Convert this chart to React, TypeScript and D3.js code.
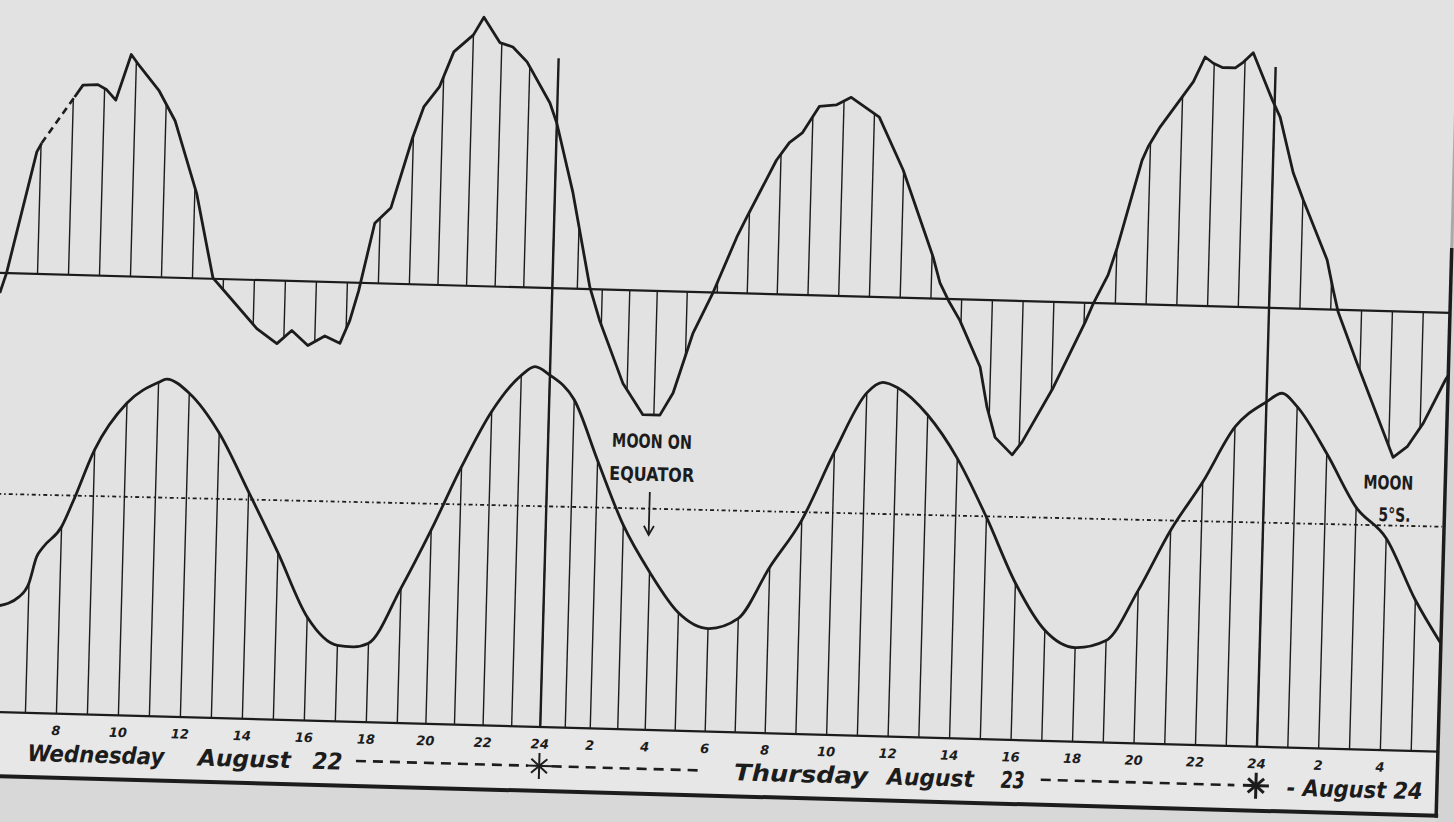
import React, { useEffect, useRef } from "react";
import * as d3 from "d3";

const W = 1454;
const H = 822;

// hours counted from 00h Wednesday August 22
const upperHours = [
  5.8, 6.0, 6.87, 7.02, 8.04, 8.3, 8.78, 9.07, 9.37, 9.83, 10.1, 10.75, 11.3, 12.06, 12.66, 13.22,
  14.12, 14.78, 15.25, 15.78, 16.32, 16.81, 17.11, 17.37, 17.83, 18.34, 18.98, 19.34, 19.86, 20.33,
  21.0, 21.35, 21.93, 22.39, 22.9, 23.74, 24.0, 24.72, 25.5, 25.92, 26.84, 27.6, 28.2, 28.62, 29.23,
  29.86, 30.6, 30.92, 31.85, 32.26, 32.67, 33.2, 33.75, 34.23, 35.16, 35.98, 37.03, 37.28, 37.6,
  37.96, 38.66, 38.92, 39.21, 39.78, 40.09, 41.05, 42.04, 42.29, 42.74, 43.01, 43.74, 43.93, 44.3,
  44.99, 45.34, 45.7, 45.97, 46.27, 46.69, 46.95, 47.26, 47.92, 48.19, 48.66, 49.01, 49.84, 50.06,
  50.24, 50.9, 52.15, 52.6, 53.1, 53.78, 53.88,
];
const upperValues = [
  -2.0, 0, 12.2, 13.1, 17.8, 19.0, 19.1, 18.6, 17.6, 22.2, 21.1, 18.7, 15.7, 8.5, 0.1, -1.8,
  -4.85, -6.3, -4.95, -6.4, -5.4, -6.1, -3.8, -0.8, 6.0, 7.6, 14.7, 17.8, 19.8, 23.35,
  25.1, 26.9, 24.4, 24.0, 22.55, 18.5, 16.5, 9.6, 0.2, -3.05, -9.3, -12.4, -12.4, -10.15, -4.1,
  0, 5.6, 7.65, 13.4, 15.2, 16.2, 18.9, 19.1, 19.9, 18.0, 12.8, 4.2, 1.6, -0.3,
  -2.1, -6.7, -10.7, -13.7, -15.4, -14.1, -8.6, -1.9, 0, 2.85, 5.6, 14.4, 15.8, 17.8,
  20.85, 22.4, 24.9, 24.3, 23.9, 23.9, 24.5, 25.45, 20.8, 19.1, 13.6, 10.9, 4.95, 2.0,
  -0.2, -5.3, -14.6, -13.5, -11.1, -6.7, -6.2,
];
// stretch of the upper record drawn dashed
const upperGap = [7.02, 8.04];

const lowerHours = [
  6, 6.7, 7, 7.22, 7.42, 8, 8.34, 9, 10, 11, 11.26, 12, 13, 14, 15, 16, 17, 17.5, 18, 19, 20, 21,
  22, 23, 23.47, 24, 25, 26, 27, 28, 29, 30, 31, 32, 33, 34, 35, 35.52, 36, 37, 38, 39, 40, 41,
  42, 43, 44, 45, 46, 47, 48, 48.5, 49, 50, 51, 52, 53, 53.85,
];
const lowerValues = [
  10.6, 11.6, 13.0, 15.6, 16.6, 18.7, 21.2, 26.5, 31.25, 33.4, 33.75, 32.4, 28.5, 22.7, 16.7, 10.35,
  7.6, 7.5, 7.9, 13.5, 19.4, 25.8, 31.4, 35.1, 36.0, 35.2, 32.8, 26.8, 20.4, 15.8, 11.8, 10.3,
  11.4, 16.6, 21.4, 28.3, 34.3, 35.4, 34.9, 32.25, 28.0, 22.2, 15.7, 11.05, 9.4, 10.2, 15.3, 21.4,
  26.3, 31.9, 34.5, 35.4, 34.1, 29.5, 24.2, 21.2, 15.1, 10.9,
];

const meanLevelHours = [5.8, 53.8];
const meanLevelValues = [21.8, 22.5];

const midnightHours = [24, 48];
const midnightTops = [23.0, 24.1];

const tickHours = [8, 10, 12, 14, 16, 18, 20, 22, 24, 26, 28, 30, 32, 34, 36, 38, 40, 42, 44, 46, 48, 50, 52];
const tickLabels = ["8", "10", "12", "14", "16", "18", "20", "22", "24", "2", "4", "6", "8", "10", "12", "14", "16", "18", "20", "22", "24", "2", "4"];

const dayWords = ["Wednesday", "August", "22", "Thursday", "August", "23", "- August 24"];
const dayWordHours = [7.1, 12.6, 16.3, 31.0, 36.0, 39.7, 49.0];
const dashRuns = [[17.7, 23.6], [24.5, 29.8], [41.0, 47.3]];
const starHours = [24, 48];

const noteLines = ["MOON ON", "EQUATOR", "MOON", "5°S."];
const noteHours = [27.96, 27.98, 52.02, 52.25];
const noteValues = [28.9, 25.6, 26.8, 23.6];
const arrowHour = 27.93;
const arrowValues = [23.8, 19.5];

export default function App() {
  const ref = useRef<SVGSVGElement>(null);

  useEffect(() => {
    const svg = d3.select(ref.current);
    svg.selectAll("*").remove();

    const ink = "#1c1c1c";
    const tilt = (Math.atan(0.0275) * 180) / Math.PI;
    const x = d3
      .scaleLinear()
      .domain([6, 19, 24, 26, 28, 32, 48, 55])
      .range([3, 406, 549, 599, 654, 774, 1266, 1482]);
    const yUp = d3.scaleLinear().domain([0, 10]).range([293, 193]);
    const yLow = d3.scaleLinear().domain([0, 10]).range([732, 632]);
    const rightEdge = 1447;
    const labelBase = 796;

    svg.append("rect").attr("width", W).attr("height", H).attr("fill", "#e2e2e2");

    const g = svg.append("g").attr("transform", `rotate(${tilt},${W / 2},${H / 2})`);

    // paper outside the frame
    g.append("rect").attr("x", -60).attr("y", yLow(0)).attr("width", W + 120).attr("height", labelBase - yLow(0)).attr("fill", "#e7e7e7");
    g.append("rect").attr("x", -60).attr("y", labelBase).attr("width", W + 120).attr("height", 120).attr("fill", "#d8d8d8");
    g.append("rect").attr("x", rightEdge).attr("y", -60).attr("width", 80).attr("height", H + 120).attr("fill", "#d4d4d4");

    // upper record
    const up = upperHours.map((h, i) => [h, upperValues[i]] as [number, number]);
    const upAt = d3.scaleLinear().domain(upperHours).range(upperValues).clamp(true);
    const upLine = d3.line<[number, number]>().x((d) => x(d[0])).y((d) => yUp(d[1]));

    g.append("g")
      .selectAll("line")
      .data(d3.range(6, 54))
      .join("line")
      .attr("x1", (h) => x(h))
      .attr("x2", (h) => x(h))
      .attr("y1", yUp(0))
      .attr("y2", (h) => yUp(upAt(h)))
      .attr("stroke", ink)
      .attr("stroke-width", 1.4);

    g.append("line")
      .attr("x1", -40).attr("x2", rightEdge)
      .attr("y1", yUp(0)).attr("y2", yUp(0))
      .attr("stroke", ink).attr("stroke-width", 2.2);

    const partA = up.filter((d) => d[0] <= upperGap[0]);
    const partB = up.filter((d) => d[0] >= upperGap[1]);
    [partA, partB].forEach((part) =>
      g.append("path").attr("d", upLine(part)).attr("fill", "none")
        .attr("stroke", ink).attr("stroke-width", 2.8).attr("stroke-linejoin", "round")
    );
    g.append("path")
      .attr("d", upLine([partA[partA.length - 1], partB[0]]))
      .attr("fill", "none").attr("stroke", ink).attr("stroke-width", 2.6)
      .attr("stroke-dasharray", "7 5");

    // lower curve
    const low = lowerHours.map((h, i) => [h, lowerValues[i]] as [number, number]);
    const lowLine = d3.line<[number, number]>().x((d) => x(d[0])).y((d) => yLow(d[1])).curve(d3.curveMonotoneX);

    g.append("g")
      .selectAll("line")
      .data(low.filter((d) => Number.isInteger(d[0])))
      .join("line")
      .attr("x1", (d) => x(d[0]))
      .attr("x2", (d) => x(d[0]))
      .attr("y1", yLow(0))
      .attr("y2", (d) => yLow(d[1]))
      .attr("stroke", ink)
      .attr("stroke-width", 1.4);

    g.append("line")
      .attr("x1", x(meanLevelHours[0]) - 20).attr("x2", x(meanLevelHours[1]))
      .attr("y1", yLow(meanLevelValues[0])).attr("y2", yLow(meanLevelValues[1]))
      .attr("stroke", ink).attr("stroke-width", 1.8)
      .attr("stroke-dasharray", "4 3 1.5 3");

    g.append("path").attr("d", lowLine(low)).attr("fill", "none")
      .attr("stroke", ink).attr("stroke-width", 2.8);

    // midnight lines
    g.append("g").selectAll("line").data(midnightHours).join("line")
      .attr("x1", (h) => x(h)).attr("x2", (h) => x(h))
      .attr("y1", (h, i) => yUp(midnightTops[i])).attr("y2", yLow(0))
      .attr("stroke", ink).attr("stroke-width", 2.4);

    // frame
    g.append("line").attr("x1", -40).attr("x2", rightEdge).attr("y1", yLow(0)).attr("y2", yLow(0))
      .attr("stroke", ink).attr("stroke-width", 2.2);
    g.append("line").attr("x1", -40).attr("x2", rightEdge + 2).attr("y1", labelBase).attr("y2", labelBase)
      .attr("stroke", ink).attr("stroke-width", 4);
    g.append("line").attr("x1", rightEdge).attr("x2", rightEdge).attr("y1", 228).attr("y2", labelBase + 2)
      .attr("stroke", ink).attr("stroke-width", 3.5);
    g.append("line").attr("x1", rightEdge).attr("x2", rightEdge).attr("y1", -40).attr("y2", 228)
      .attr("stroke", "#a9a9a9").attr("stroke-width", 3);

    // hour ticks
    g.append("g").selectAll("text").data(tickHours).join("text")
      .attr("x", (h) => x(h)).attr("y", yLow(0) + 17)
      .attr("text-anchor", "middle").attr("dominant-baseline", "central")
      .attr("font-family", "DejaVu Sans").attr("font-weight", "bold").attr("font-style", "italic")
      .attr("font-size", 13).attr("fill", ink)
      .text((h, i) => tickLabels[i]);

    // day names
    const wordWidths = [137, 93, 30, 134, 87, 24, 136];
    g.append("g").selectAll("text").data(dayWords).join("text")
      .attr("x", (d, i) => x(dayWordHours[i])).attr("y", 780)
      .attr("font-family", "DejaVu Sans").attr("font-weight", "bold").attr("font-style", "italic")
      .attr("font-size", 23).attr("fill", ink)
      .attr("textLength", (d, i) => wordWidths[i]).attr("lengthAdjust", "spacingAndGlyphs")
      .text((d) => d);

    g.append("g").selectAll("line").data(dashRuns).join("line")
      .attr("x1", (d) => x(d[0])).attr("x2", (d) => x(d[1]))
      .attr("y1", 771).attr("y2", 771)
      .attr("stroke", ink).attr("stroke-width", 2.6).attr("stroke-dasharray", "10 7");

    starHours.forEach((h, i) => {
      const s = g.append("g").attr("transform", `translate(${x(h)},771)`)
        .attr("stroke", ink).attr("stroke-width", i === 0 ? 2 : 3);
      const arms: [number, number][] = [[0, 13], [13, 0], [8, 7], [8, -7]];
      arms.forEach(([dx, dy]) =>
        s.append("line").attr("x1", -dx).attr("y1", -dy).attr("x2", dx).attr("y2", dy)
      );
    });

    // notes
    const noteWidths = [80, 85, 50, 32];
    g.append("g").selectAll("text").data(noteLines).join("text")
      .attr("x", (d, i) => x(noteHours[i])).attr("y", (d, i) => yLow(noteValues[i]))
      .attr("text-anchor", "middle").attr("dominant-baseline", "central")
      .attr("font-family", "DejaVu Sans").attr("font-weight", "bold")
      .attr("font-size", 19).attr("fill", ink)
      .attr("textLength", (d, i) => noteWidths[i]).attr("lengthAdjust", "spacingAndGlyphs")
      .text((d) => d);

    const ax = x(arrowHour);
    const ay0 = yLow(arrowValues[0]);
    const ay1 = yLow(arrowValues[1]);
    g.append("line").attr("x1", ax).attr("x2", ax).attr("y1", ay0).attr("y2", ay1)
      .attr("stroke", ink).attr("stroke-width", 1.8);
    g.append("path")
      .attr("d", `M${ax - 5},${ay1 - 9}L${ax},${ay1}L${ax + 5},${ay1 - 9}`)
      .attr("fill", "none").attr("stroke", ink).attr("stroke-width", 1.8);
  }, []);

  return (
    <svg
      ref={ref}
      width={W}
      height={H}
      style={{ position: "absolute", left: 0, top: 0, display: "block" }}
    />
  );
}
